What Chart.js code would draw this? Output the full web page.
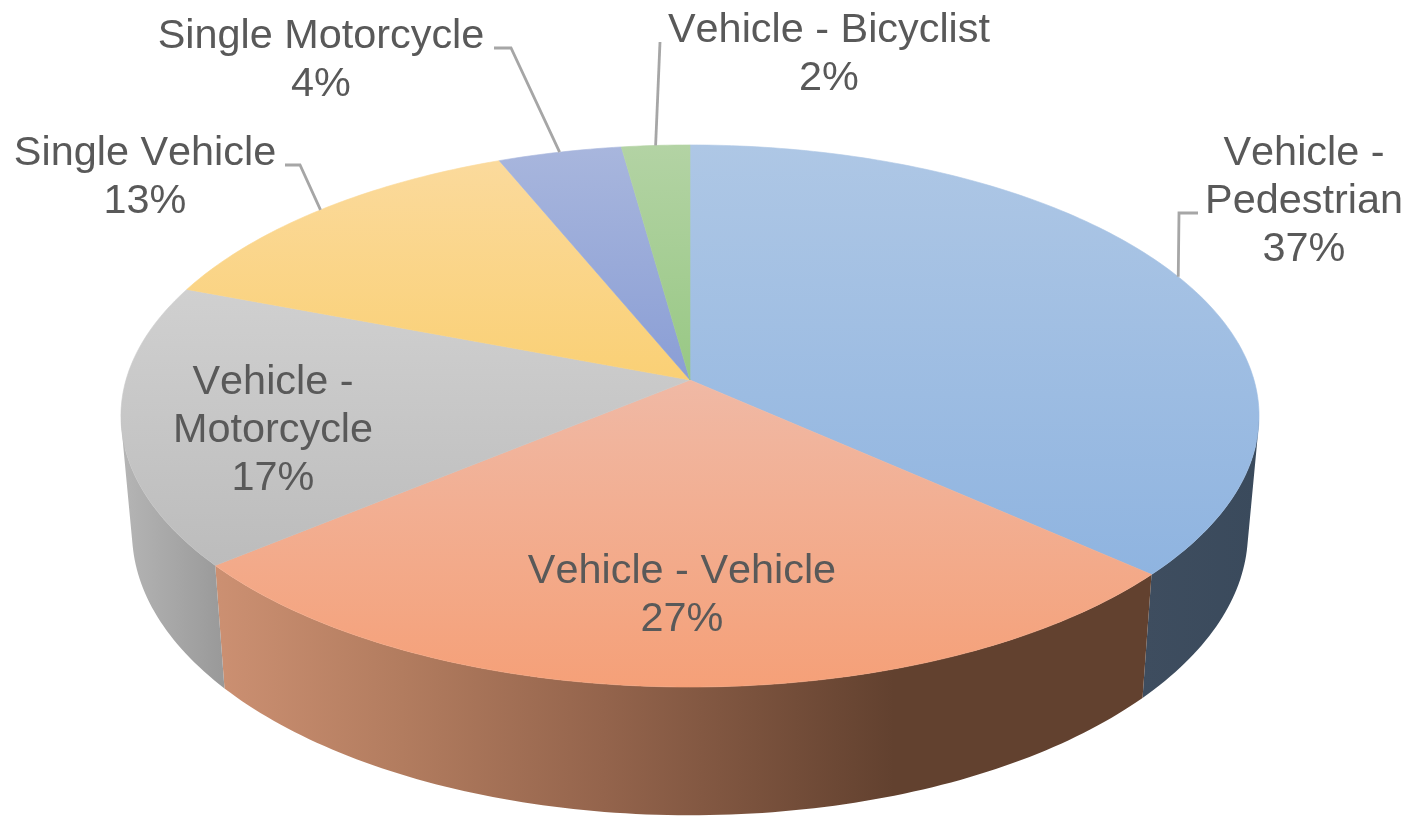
<!DOCTYPE html>
<html>
<head>
<meta charset="utf-8">
<title>Crash types</title>
<script src="https://cdn.jsdelivr.net/npm/chart.js@4"></script>
<style>
  html, body { margin: 0; padding: 0; background: #fff; }
  canvas { display: block; filter: blur(0.5px); }
</style>
</head>
<body>
<canvas id="crashChart" width="1412" height="816"></canvas>
<script>
// Chart data (clockwise from 12 o'clock)
const categories = ["Vehicle - Pedestrian", "Vehicle - Vehicle", "Vehicle - Motorcycle", "Single Vehicle", "Single Motorcycle", "Vehicle - Bicyclist"];
const shares = [36.6, 27.4, 16.8, 13.0, 4.0, 2.2];

// Top face colours, light to saturated going down the slice
const topColors = [["#aec7e5", "#8fb4e0"], ["#f0b9a5", "#f5a078"], ["#d0d0d0", "#bcbcbc"], ["#fbda9c", "#fad075"], ["#a8b6dd", "#8a9ed5"], ["#b3d3a4", "#98c884"]];
// Side wall colours, left to right
const wallColors = [
  [[0, "#3e4d5f"], [1, "#3a4a5c"]],
  [[0, "#cc9072"], [0.2, "#b27c5f"], [0.415, "#94644c"], [0.725, "#62412f"], [1, "#62412f"]],
  [[0, "#b5b5b5"], [1, "#999999"]],
  [[0, "#a98b4e"], [1, "#a98b4e"]],
  [[0, "#66759b"], [1, "#66759b"]],
  [[0, "#6f8f5f"], [1, "#6f8f5f"]]
];

// Projection of the flat disc: the top and bottom rim share one vanishing term
const TILT = -0.1328;
const topDisc = { cx: 690, d: 564, a: 215.8, b: 380 };
const bottomDisc = { cx: 690, d: 553, a: 212, b: 495 };

// Label text is centred on these points, one line every 48px
const labelLayout = [
  { lines: ["Vehicle -", "Pedestrian"], x: 1304, y: 151, elbow: [[1198, 213], [1179, 213]] },
  { lines: ["Vehicle - Vehicle"], x: 682, y: 569 },
  { lines: ["Vehicle -", "Motorcycle"], x: 273, y: 380 },
  { lines: ["Single Vehicle"], x: 145, y: 151, elbow: [[285, 165], [300, 165]] },
  { lines: ["Single Motorcycle"], x: 321, y: 34, elbow: [[494, 48], [511, 48]] },
  { lines: ["Vehicle - Bicyclist"], x: 829, y: 28, elbow: [[660, 42]] }
];

// Maps an arc angle (canvas radians) to the pixel on a tilted rim
function rimPoint(angle, disc, radius = 1) {
  const u = Math.cos(angle) * radius;
  const v = Math.sin(angle) * radius;
  const w = 1 + TILT * v;
  return { x: disc.cx + disc.d * u / w, y: (disc.a * v + disc.b) / w };
}

function sliceAngles(arc) {
  const steps = Math.max(8, Math.ceil((arc.endAngle - arc.startAngle) * 60));
  const angles = [];
  for (let i = 0; i <= steps; i++) {
    angles.push(arc.startAngle + (arc.endAngle - arc.startAngle) * i / steps);
  }
  return angles;
}

function tracePath(ctx, pts) {
  pts.forEach((p, i) => i ? ctx.lineTo(p.x, p.y) : ctx.moveTo(p.x, p.y));
  ctx.closePath();
}

// Side wall of one slice: only the strips on the near side of the disc,
// each wound the same way so the silhouette between the rims gets filled
function drawWall(ctx, arc, stops) {
  const angles = sliceAngles(arc);
  const quads = [];
  for (let i = 1; i < angles.length; i++) {
    if (Math.sin(angles[i]) < -TILT - 0.02 && Math.sin(angles[i - 1]) < -TILT - 0.02) continue;
    const quad = [rimPoint(angles[i - 1], topDisc), rimPoint(angles[i], topDisc), rimPoint(angles[i], bottomDisc), rimPoint(angles[i - 1], bottomDisc)];
    const area = quad.reduce((sum, p, k) => {
      const q = quad[(k + 1) % 4];
      return sum + p.x * q.y - q.x * p.y;
    }, 0);
    quads.push(area < 0 ? quad.reverse() : quad);
  }
  if (!quads.length) return;
  const xs = quads.flat().map(p => p.x);
  const grad = ctx.createLinearGradient(Math.min(...xs), 0, Math.max(...xs), 0);
  stops.forEach(s => grad.addColorStop(s[0], s[1]));
  ctx.beginPath();
  quads.forEach(quad => tracePath(ctx, quad));
  ctx.fillStyle = grad;
  ctx.fill();
}

// Top face of one slice, filled with a top-to-bottom gradient
function drawTop(ctx, arc, colors) {
  const pts = [rimPoint(0, topDisc, 0)].concat(sliceAngles(arc).map(a => rimPoint(a, topDisc)));
  const ys = pts.map(p => p.y);
  const grad = ctx.createLinearGradient(0, Math.min(...ys), 0, Math.max(...ys));
  grad.addColorStop(0, colors[0]);
  grad.addColorStop(1, colors[1]);
  ctx.beginPath();
  tracePath(ctx, pts);
  ctx.fillStyle = grad;
  ctx.strokeStyle = grad;
  ctx.lineWidth = 0.6;
  ctx.fill();
  ctx.stroke();
}

// Leader line from the label to the middle of the slice's outer edge
function drawLeader(ctx, arc, elbow) {
  const end = rimPoint((arc.startAngle + arc.endAngle) / 2, topDisc);
  ctx.beginPath();
  elbow.forEach((p, i) => i ? ctx.lineTo(p[0], p[1]) : ctx.moveTo(p[0], p[1]));
  ctx.lineTo(end.x, end.y);
  ctx.strokeStyle = "#a6a6a6";
  ctx.lineWidth = 2.8;
  ctx.stroke();
}

function drawLabel(ctx, layout, share) {
  const lines = layout.lines.concat(Math.round(share) + "%");
  ctx.font = '41.4px "Liberation Sans", Arial, sans-serif';
  ctx.fontKerning = "none";
  ctx.fillStyle = "#595959";
  ctx.textAlign = "center";
  ctx.textBaseline = "middle";
  lines.forEach((line, i) => ctx.fillText(line, layout.x, layout.y + 3 + i * 48));
}

// Replaces the flat pie drawing with the tilted one, using the arcs Chart.js laid out
const tiltedPie = {
  id: "tiltedPie",
  beforeDatasetsDraw(chart) {
    const ctx = chart.ctx;
    const arcs = chart.getDatasetMeta(0).data;
    ctx.save();
    arcs.forEach((arc, i) => drawWall(ctx, arc, wallColors[i]));
    arcs.forEach((arc, i) => drawTop(ctx, arc, topColors[i]));
    arcs.forEach((arc, i) => {
      if (labelLayout[i].elbow) drawLeader(ctx, arc, labelLayout[i].elbow);
    });
    labelLayout.forEach((layout, i) => drawLabel(ctx, layout, shares[i]));
    ctx.restore();
    return false;
  }
};

new Chart(document.getElementById("crashChart"), {
  type: "pie",
  data: {
    labels: categories,
    datasets: [{ data: shares, backgroundColor: topColors.map(c => c[1]), borderWidth: 0 }]
  },
  options: {
    responsive: false,
    animation: false,
    plugins: { legend: { display: false }, tooltip: { enabled: false } }
  },
  plugins: [tiltedPie]
});
</script>
</body>
</html>
